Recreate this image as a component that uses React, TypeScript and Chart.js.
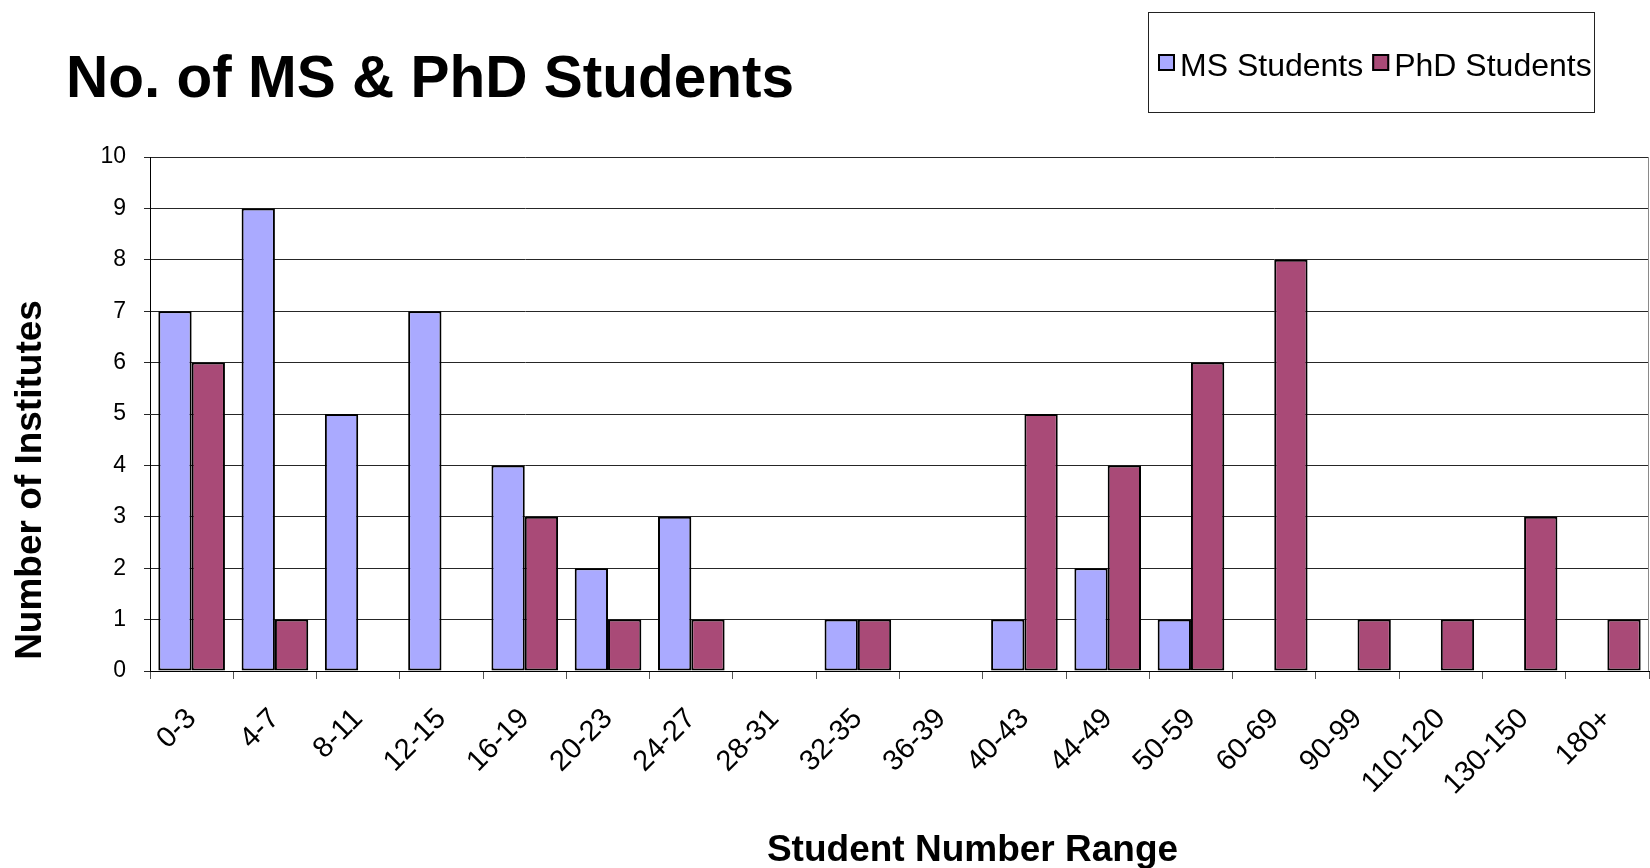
import React, { useEffect, useRef } from 'react';
import { Chart, registerables } from 'chart.js';

Chart.register(...registerables);

const FONT = '"Liberation Sans", Arial, Helvetica, sans-serif';

const TITLE = 'No. of MS & PhD Students';
const X_TITLE = 'Student Number Range';
const Y_TITLE = 'Number of Institutes';

const categories = [
  '0-3', '4-7', '8-11', '12-15', '16-19', '20-23', '24-27', '28-31', '32-35',
  '36-39', '40-43', '44-49', '50-59', '60-69', '90-99', '110-120', '130-150', '180+',
];
const seriesLabels = ['MS Students', 'PhD Students'];
const msStudents = [7, 9, 5, 7, 4, 2, 3, 0, 1, 0, 1, 2, 1, 0, 0, 0, 0, 0];
const phdStudents = [6, 1, 0, 0, 3, 1, 1, 0, 1, 0, 5, 4, 6, 8, 1, 1, 3, 1];
const yMin = 0;
const yMax = 10;
const yStep = 1;

const MS_COLOR = '#AAAAFF';
const PHD_COLOR = '#A94A77';

const decorPlugin = {
  id: 'decor',
  afterDraw(chart: any) {
    const ctx: CanvasRenderingContext2D = chart.ctx;
    const area = chart.chartArea;
    ctx.save();

    // right border of plot
    ctx.strokeStyle = '#8a8a8a';
    ctx.lineWidth = 1;
    const rx = Math.round(area.right) - 0.5;
    ctx.beginPath();
    ctx.moveTo(rx, area.top);
    ctx.lineTo(rx, area.bottom);
    ctx.stroke();

    // main title
    ctx.fillStyle = '#000';
    ctx.font = `bold 58.5px ${FONT}`;
    ctx.textAlign = 'left';
    ctx.textBaseline = 'alphabetic';
    ctx.fillText(TITLE, 66, 97);

    // x axis title
    ctx.font = `bold 37px ${FONT}`;
    ctx.textAlign = 'center';
    ctx.fillText(X_TITLE, (area.left + area.right) / 2 + 73, 861);

    // y axis title
    ctx.save();
    ctx.translate(31, (area.top + area.bottom) / 2 + 66);
    ctx.rotate(-Math.PI / 2);
    ctx.textBaseline = 'middle';
    ctx.textAlign = 'center';
    ctx.fillText(Y_TITLE, 0, 0);
    ctx.restore();

    // legend
    const boxL = 1148.5, boxT = 12.5, boxR = 1594.5, boxB = 112.5;
    ctx.fillStyle = '#fff';
    ctx.fillRect(boxL, boxT, boxR - boxL, boxB - boxT);
    ctx.strokeStyle = '#222';
    ctx.lineWidth = 1;
    ctx.strokeRect(boxL, boxT, boxR - boxL, boxB - boxT);

    ctx.font = `32px ${FONT}`;
    ctx.textAlign = 'left';
    ctx.textBaseline = 'alphabetic';
    let x = 1158;
    const sw = 17;
    const swTop = 54;
    chart.data.datasets.forEach((ds: any) => {
      ctx.fillStyle = ds.backgroundColor;
      ctx.fillRect(x, swTop, sw, sw);
      ctx.strokeStyle = '#000';
      ctx.lineWidth = 2;
      ctx.strokeRect(x + 1, swTop + 1, sw - 2, sw - 2);
      ctx.fillStyle = '#000';
      ctx.fillText(ds.label, x + sw + 5, 76);
      x += sw + 5 + ctx.measureText(ds.label).width + 9;
    });

    ctx.restore();
  },
};

export default function App() {
  const ref = useRef<HTMLCanvasElement | null>(null);

  useEffect(() => {
    if (!ref.current) return;
    const chart = new Chart(ref.current, {
      type: 'bar',
      data: {
        labels: categories,
        datasets: [
          {
            label: seriesLabels[0],
            data: msStudents,
            backgroundColor: MS_COLOR,
            borderColor: '#000',
            borderWidth: 2,
            borderSkipped: false,
            categoryPercentage: 0.8,
            barPercentage: 1.0,
          },
          {
            label: seriesLabels[1],
            data: phdStudents,
            backgroundColor: PHD_COLOR,
            borderColor: '#000',
            borderWidth: 2,
            borderSkipped: false,
            categoryPercentage: 0.8,
            barPercentage: 1.0,
          },
        ],
      },
      options: {
        responsive: false,
        animation: false,
        devicePixelRatio: 1,
        layout: { padding: { top: 157, right: 1, left: 0, bottom: 0 } },
        plugins: {
          legend: { display: false },
          title: { display: false },
          tooltip: { enabled: false },
        },
        scales: {
          x: {
            grid: {
              drawOnChartArea: false,
              drawTicks: true,
              tickLength: 8,
              color: '#555',
              offset: true,
            },
            border: { display: true, color: '#000', width: 1 },
            ticks: {
              color: '#000',
              font: { family: FONT, size: 29 },
              minRotation: 45,
              maxRotation: 45,
              autoSkip: false,
              padding: 23,
            },
            afterFit: (scale: any) => {
              scale.height = 197;
              scale.paddingLeft = 0;
              scale.paddingRight = 0;
            },
          },
          y: {
            min: yMin,
            max: yMax,
            grid: {
              color: '#262626',
              lineWidth: 1,
              drawTicks: true,
              tickLength: 6,
            },
            border: { display: true, color: '#000', width: 1 },
            ticks: {
              stepSize: yStep,
              color: '#000',
              font: { family: FONT, size: 23 },
              padding: 18,
            },
            afterFit: (scale: any) => {
              scale.width = 150;
              scale.paddingTop = 0;
              scale.paddingBottom = 0;
            },
          },
        },
      },
      plugins: [decorPlugin],
    });
    return () => chart.destroy();
  }, []);

  return (
    <div style={{ position: 'absolute', left: 0, top: 0, width: 1650, height: 868, background: '#fff' }}>
      <canvas ref={ref} width={1650} height={868} />
    </div>
  );
}
